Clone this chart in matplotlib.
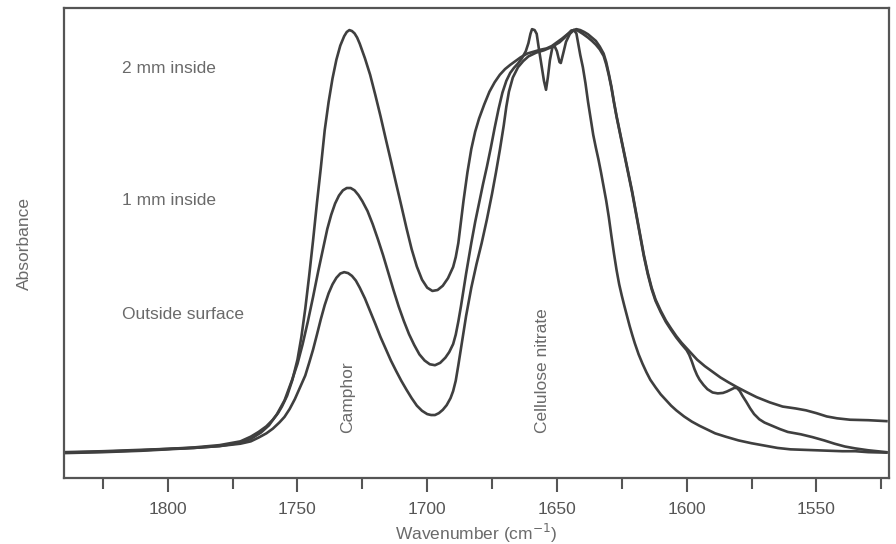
import matplotlib.pyplot as plt

plt.rcParams['font.family'] = ['Liberation Sans', 'DejaVu Sans']

# --- spectra (wavenumber in cm-1, absorbance in arb. units) ---
wn_2mm = [1840, 1825, 1810, 1800, 1790, 1780, 1772, 1768, 1765, 1762, 1759.5,
          1757.5, 1756, 1754,
          1752, 1750, 1748.5, 1747, 1745.5, 1744, 1742.5, 1741, 1739.5, 1738,
          1736.5, 1735, 1733.5, 1732, 1731, 1730, 1729, 1728, 1727, 1726, 1724,
          1722, 1720, 1718, 1716, 1714, 1712, 1710, 1708, 1706, 1704, 1702, 1700,
          1698, 1696, 1694, 1692, 1690, 1689, 1688, 1687, 1686, 1684.5, 1683,
          1681.5, 1680, 1678, 1676, 1674, 1672, 1670, 1668, 1666, 1664, 1661.5,
          1659, 1656.5, 1654, 1652, 1650, 1648, 1646, 1644, 1642.5, 1641, 1639.5,
          1638, 1636.5, 1635, 1633.5, 1632, 1631, 1630, 1629, 1628, 1627, 1625.5,
          1624, 1622.5, 1621, 1619.5, 1618, 1616.5, 1615, 1613.5, 1612, 1610,
          1608, 1606, 1604, 1602, 1600, 1598, 1596, 1593, 1590, 1587, 1584,
          1580.8, 1577, 1573, 1568, 1563, 1558, 1554, 1550, 1546, 1542, 1537,
          1530, 1523]
a_2mm = [0.055, 0.057, 0.060, 0.062, 0.065, 0.070, 0.078, 0.088, 0.098, 0.110,
         0.124, 0.138, 0.152, 0.175, 0.208, 0.252, 0.300, 0.360, 0.430, 0.505,
         0.585, 0.660, 0.740, 0.800, 0.850, 0.890, 0.920, 0.940, 0.949, 0.953,
         0.951, 0.946, 0.937, 0.924, 0.893, 0.858, 0.815, 0.770, 0.722, 0.675,
         0.627, 0.580, 0.532, 0.487, 0.450, 0.422, 0.405, 0.398, 0.400, 0.409,
         0.425, 0.449, 0.470, 0.500, 0.545, 0.590, 0.650, 0.700, 0.737, 0.765,
         0.795, 0.822, 0.842, 0.858, 0.870, 0.879, 0.887, 0.895, 0.903, 0.907,
         0.911, 0.914, 0.919, 0.927, 0.935, 0.944, 0.952, 0.955, 0.953, 0.949,
         0.944, 0.937, 0.930, 0.918, 0.903, 0.885, 0.860, 0.833, 0.800, 0.770,
         0.730, 0.690, 0.650, 0.610, 0.565, 0.520, 0.475, 0.437, 0.405, 0.380,
         0.356, 0.335, 0.318, 0.302, 0.288, 0.276, 0.264, 0.252, 0.238, 0.226,
         0.214, 0.204, 0.194, 0.183, 0.172, 0.161, 0.152, 0.148, 0.144, 0.138,
         0.131, 0.127, 0.124, 0.123, 0.121]

wn_1mm = [1840, 1825, 1810, 1800, 1790, 1780, 1772, 1768, 1764, 1761, 1758, 1755,
          1752, 1750, 1748, 1746, 1744, 1742, 1740, 1738.5, 1737, 1735.5, 1734,
          1732.5, 1731, 1729.5, 1728, 1726.5, 1725, 1723, 1721, 1719, 1717, 1715,
          1713, 1711, 1709, 1707, 1705, 1703, 1701, 1699, 1697, 1695, 1693,
          1691.5, 1690, 1689, 1688, 1687, 1686, 1685, 1684, 1683, 1681.5, 1680,
          1678.5, 1677, 1675.5, 1674, 1672.5, 1671, 1669.5, 1668, 1666.5, 1665,
          1663.5, 1662, 1661, 1660.2, 1659.6, 1658.6, 1657.8, 1657, 1656, 1655,
          1654.2, 1653.5, 1652.7, 1651.8, 1651, 1650, 1649, 1648.5, 1647.5,
          1646.5, 1645, 1643.5, 1642, 1640, 1638, 1636.5, 1635, 1633.5, 1632,
          1631, 1630, 1629, 1628, 1627, 1625.5, 1624, 1622.5, 1621, 1619.5, 1618,
          1616.5, 1615, 1613.5, 1612, 1610, 1608, 1606, 1604, 1602, 1600, 1599,
          1598, 1597, 1596, 1595, 1593.5, 1592, 1590, 1588, 1586, 1584.5, 1583,
          1581.5, 1580.5, 1579.5, 1578.5, 1577, 1575.5, 1574, 1572, 1570, 1567,
          1564, 1561, 1556, 1551.5, 1547, 1543, 1539, 1535, 1530, 1523]
a_1mm = [0.053, 0.055, 0.058, 0.061, 0.064, 0.068, 0.075, 0.083, 0.097, 0.112,
         0.135, 0.165, 0.210, 0.243, 0.285, 0.333, 0.385, 0.440, 0.492, 0.530,
         0.560, 0.584, 0.601, 0.612, 0.617, 0.617, 0.612, 0.602, 0.589, 0.568,
         0.540, 0.508, 0.474, 0.437, 0.400, 0.365, 0.334, 0.306, 0.283, 0.263,
         0.250, 0.242, 0.240, 0.245, 0.256, 0.268, 0.285, 0.305, 0.333, 0.365,
         0.400, 0.435, 0.468, 0.500, 0.545, 0.585, 0.625, 0.662, 0.702, 0.745,
         0.785, 0.820, 0.845, 0.862, 0.873, 0.882, 0.893, 0.908, 0.925, 0.945,
         0.955, 0.953, 0.945, 0.915, 0.880, 0.845, 0.826, 0.852, 0.889, 0.915,
         0.920, 0.908, 0.885, 0.883, 0.905, 0.928, 0.945, 0.953, 0.952, 0.945,
         0.937, 0.930, 0.922, 0.912, 0.898, 0.880, 0.857, 0.830, 0.798, 0.768,
         0.728, 0.688, 0.648, 0.607, 0.562, 0.517, 0.472, 0.434, 0.402, 0.377,
         0.353, 0.332, 0.315, 0.299, 0.285, 0.272, 0.262, 0.248, 0.232, 0.219,
         0.209, 0.198, 0.189, 0.182, 0.180, 0.181, 0.184, 0.188, 0.192, 0.191,
         0.185, 0.175, 0.162, 0.148, 0.136, 0.125, 0.118, 0.111, 0.104, 0.098,
         0.093, 0.087, 0.080, 0.073, 0.067, 0.063, 0.059, 0.055]

wn_out = [1840, 1825, 1810, 1800, 1790, 1780, 1772, 1768, 1765, 1762, 1759.5,
          1757, 1755, 1753, 1751, 1749, 1747, 1745.5, 1744, 1742.5, 1741, 1739.5,
          1738, 1736.5, 1735, 1733.5, 1732, 1730.5, 1729, 1727.5, 1726, 1724,
          1722, 1720, 1718, 1716, 1714, 1712, 1710, 1708, 1706, 1704, 1702, 1700,
          1698.5, 1697, 1695.5, 1694, 1692.5, 1691, 1690, 1689, 1688, 1687, 1685,
          1683, 1681, 1679, 1677, 1675, 1673.5, 1672, 1670.5, 1669.5, 1668.5,
          1667, 1665, 1663, 1661, 1658, 1655,
          1652, 1649, 1647, 1645.5, 1644.5, 1643.5, 1642.5, 1641.8, 1641, 1640,
          1639, 1638, 1637, 1636, 1635, 1634, 1633, 1632, 1631, 1630, 1629, 1628,
          1627, 1626, 1625, 1624, 1623, 1622, 1621, 1620, 1618.5, 1617, 1615.5,
          1614, 1612, 1610, 1608, 1606, 1604, 1601, 1598, 1595, 1592, 1589, 1585,
          1580, 1575, 1570, 1565, 1560, 1555, 1550, 1545, 1540, 1535, 1530, 1523]
a_out = [0.054, 0.056, 0.059, 0.062, 0.064, 0.068, 0.073, 0.078, 0.086, 0.095,
         0.105, 0.118, 0.130, 0.147, 0.168, 0.193, 0.218, 0.245, 0.273, 0.305,
         0.338, 0.368, 0.393, 0.412, 0.426, 0.435, 0.438, 0.436, 0.430, 0.420,
         0.405, 0.382, 0.355, 0.328, 0.300, 0.275, 0.250, 0.228, 0.207, 0.188,
         0.170, 0.154, 0.143, 0.136, 0.134, 0.134, 0.138, 0.145, 0.155, 0.170,
         0.185, 0.207, 0.240, 0.275, 0.345, 0.405, 0.455, 0.500, 0.550, 0.605,
         0.650, 0.698, 0.750, 0.790, 0.822, 0.852, 0.874, 0.887, 0.897, 0.905,
         0.910, 0.917, 0.927, 0.937, 0.946, 0.952,
         0.953, 0.946, 0.925, 0.900, 0.874, 0.840, 0.800, 0.765, 0.730, 0.703,
         0.678, 0.650, 0.620, 0.590, 0.555, 0.515, 0.477, 0.442, 0.412, 0.388,
         0.366, 0.345, 0.324, 0.305, 0.287, 0.263, 0.243, 0.225, 0.209, 0.193,
         0.178, 0.166, 0.154, 0.144, 0.131, 0.120, 0.111, 0.103, 0.095, 0.088,
         0.080, 0.074, 0.069, 0.064, 0.061, 0.060, 0.059, 0.058, 0.057, 0.057,
         0.055, 0.054]

major_ticks = [1800, 1750, 1700, 1650, 1600, 1550]
minor_ticks = [1825, 1775, 1725, 1675, 1625, 1575, 1525]

line_col = '#3f3f3f'
text_col = '#6a6a6a'

fig = plt.figure(figsize=(8.96, 5.44), dpi=100)
ax = fig.add_axes([0.0714, 0.1213, 0.9208, 0.864])

for wn, a in [(wn_2mm, a_2mm), (wn_1mm, a_1mm), (wn_out, a_out)]:
    ax.plot(wn, a, color=line_col, linewidth=1.9, solid_joinstyle='round')

ax.set_xlim(1840, 1522)
ax.set_ylim(0, 1)

# labels on the curves
lab_kw = dict(color=text_col, fontsize=12.5, ha='left', va='center')
ax.text(1817.7, 0.872, '2 mm inside', **lab_kw)
ax.text(1817.7, 0.591, '1 mm inside', **lab_kw)
ax.text(1817.7, 0.347, 'Outside surface', **lab_kw)

band_kw = dict(color=text_col, fontsize=12.5, rotation=90, ha='center', va='bottom')
ax.text(1730.8, 0.096, 'Camphor', **band_kw)
ax.text(1655.4, 0.096, 'Cellulose nitrate', **band_kw)

ax.set_xticks(major_ticks)
ax.set_xticks(minor_ticks, minor=True)
ax.set_yticks([])
ax.tick_params(axis='x', which='major', length=10, width=1.5, color='#555555',
               labelsize=12.5, labelcolor='#555555', pad=7)
ax.tick_params(axis='x', which='minor', length=8, width=1.5, color='#555555')

for sp in ax.spines.values():
    sp.set_color('#555555')
    sp.set_linewidth(1.6)

ax.set_xlabel('Wavenumber (cm$^{-1}$)', fontsize=12.5, color=text_col, labelpad=3.5)
ax.set_ylabel('Absorbance', fontsize=12.5, color=text_col, labelpad=23)

fig.savefig('out.png', dpi=100)
